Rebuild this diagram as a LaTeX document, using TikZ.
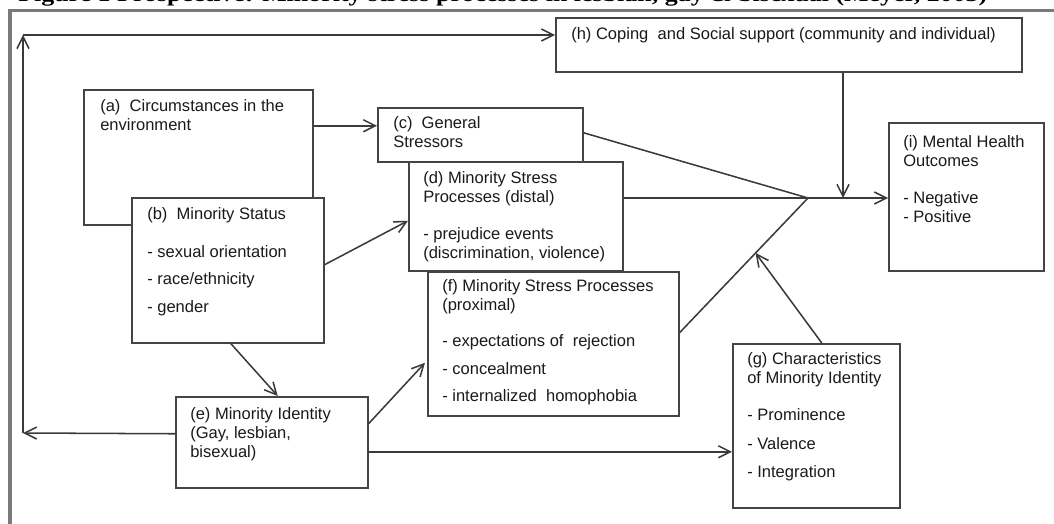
\documentclass[tikz,border=0pt]{standalone}
\usepackage{fontspec}
\setmainfont{Liberation Sans}
\newfontfamily\mytitlefont{Liberation Serif}
\usetikzlibrary{arrows.meta,calc}
\definecolor{boxc}{HTML}{444444}
\definecolor{linec}{HTML}{3a3a3a}
\definecolor{framec}{HTML}{7a7a7a}
\definecolor{textc}{HTML}{1a1a1a}
\newcommand\myfs{\fontsize{12.4}{14.4}\selectfont}
\begin{document}
\begin{tikzpicture}[x=0.75pt,y=-0.75pt,
  box/.style={draw=boxc, line width=1.15pt, fill=white, anchor=north west, inner sep=0pt},
  txt/.style={anchor=north west, inner sep=0pt, align=left, font=\myfs, text=textc},
  conn/.style={draw=linec, line width=1.15pt},
  arr/.style={conn, -{Straight Barb[length=9pt,width=9pt,line width=1.15pt]}},
  framel/.style={draw=framec, line width=2.4pt}]
\useasboundingbox (0,0) rectangle (1054,524);
% clipped title
\begin{scope}
\clip (0,0) rectangle (1054,524);
\node[anchor=base west, inner sep=0pt, font=\mytitlefont\fontsize{16}{18}\selectfont\bfseries, text=black] (title) at (18,1.5)
  {\resizebox{726.75pt}{\height}{Figure 1 Prospective: Minority stress processes in lesbian, gay \& bisexual (Meyer, 2003)}};
\end{scope}
% frame
\draw[framel] (10,530) -- (10,10.5) -- (1060,10.5);
% boxes
\node[box, minimum width=229*0.75pt, minimum height=135*0.75pt] (a) at (83,89) {};
\node[box, minimum width=192*0.75pt, minimum height=145*0.75pt] (b) at (131,197) {};
\node[box, minimum width=205*0.75pt, minimum height=54*0.75pt] (c) at (377,107) {};
\node[box, minimum width=214*0.75pt, minimum height=109*0.75pt] (d) at (408,161) {};
\node[box, minimum width=251*0.75pt, minimum height=144*0.75pt] (f) at (427,271) {};
\node[box, minimum width=192*0.75pt, minimum height=91*0.75pt] (e) at (175,396) {};
\node[box, minimum width=167*0.75pt, minimum height=164*0.75pt] (g) at (732,343) {};
\node[box, minimum width=466*0.75pt, minimum height=54*0.75pt] (h) at (555,17) {};
\node[box, minimum width=155*0.75pt, minimum height=148*0.75pt] (i) at (888,122) {};
% texts
\node[txt] (th) at (571,25.5) {\strut(h) Coping\ \ and Social support (community and individual)};
\node[txt] (ta) at (100,97.5) {\strut(a)\ \ Circumstances in the\\environment};
\node[txt] (tb) at (147,205.5) {\strut(b)\ \ Minority Status\\[14.2pt]- sexual orientation\\[6.3pt]- race/ethnicity\\[6.3pt]- gender};
\node[txt] (tc) at (393,114.5) {\strut(c)\ \ General\\Stressors};
\node[txt] (td) at (423,169.5) {\strut(d) Minority Stress\\Processes (distal)\\[13.3pt]- prejudice events\\(discrimination, violence)};
\node[txt] (tf) at (442,277.5) {\strut(f) Minority Stress Processes\\(proximal)\\[12.6pt]- expectations of\ \ rejection\\[6.3pt]- concealment\\[6.3pt]- internalized\ \ homophobia};
\node[txt] (te) at (190,405.5) {\strut(e) Minority Identity\\(Gay, lesbian,\\bisexual)};
\node[txt] (tg) at (747,350.5) {\strut(g) Characteristics\\of Minority Identity\\[13.3pt]- Prominence\\[7.2pt]- Valence\\[7.2pt]- Integration};
\node[txt] (ti) at (903,133.5) {\strut(i) Mental Health\\Outcomes\\[13.3pt]- Negative\\- Positive};
% helper coordinates
\coordinate (J) at (808,198);
\coordinate (K) at (843,198);
\coordinate (L1) at (23,433);
\coordinate (L2) at (23,35);
\coordinate (F1) at ($(f.east)+(0,-11)$);
\coordinate (G) at ($(F1)!0.592!(J)$);
% connectors
\draw[arr] ($(a.east)+(0,-31.5)$) -- ($(c.west)+(0,-9)$);
\draw[arr] ($(b.east)+(0,-5.5)$) -- ($(d.west)+(0,4.5)$);
\draw[arr] ($(b.south)+(3,0)$) -- ($(e.north)+(6,0)$);
\draw[arr] ($(e.west)+(0,-8.5)$) -- (L1);
\draw[arr] (L1) -- (L2);
\draw[arr] (L2) -- (h.west |- L2);
\draw[arr] ($(e.east)+(0,-18.5)$) -- ($(f.west)+(-2,19)$);
\draw[arr] (e.east |- {$(g.west)+(0,26)$}) -- ($(g.west)+(0,26)$);
\draw[conn] ($(c.east)+(0,-2)$) -- (J);
\draw[conn] (d.east |- J) -- (J);
\draw[conn] (F1) -- (J);
\draw[arr] (J) -- (i.west |- J);
\draw[arr] (h.south -| K) -- (K);
\draw[arr] ($(g.north)+(5.5,0)$) -- (G);
\end{tikzpicture}
\end{document}
